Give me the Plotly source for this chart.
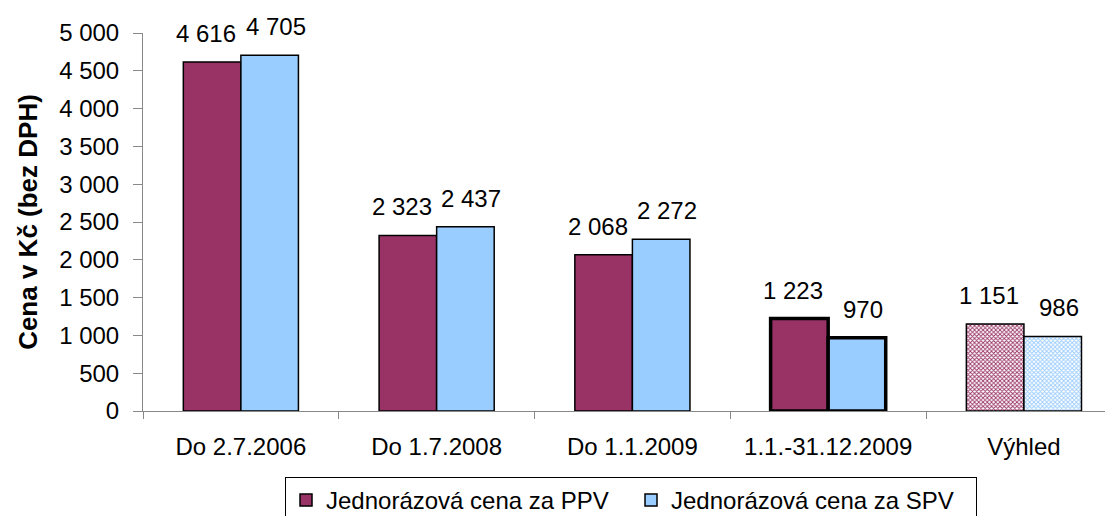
import plotly.graph_objects as go

categories = ["Do 2.7.2006", "Do 1.7.2008", "Do 1.1.2009", "1.1.-31.12.2009", "Výhled"]
ppv = [4616, 2323, 2068, 1223, 1151]
spv = [4705, 2437, 2272, 970, 986]
series_names = ["Jednorázová cena za PPV", "Jednorázová cena za SPV"]
y_ticks = [0, 500, 1000, 1500, 2000, 2500, 3000, 3500, 4000, 4500, 5000]
y_ticklabels = ["0", "500", "1 000", "1 500", "2 000", "2 500", "3 000", "3 500", "4 000", "4 500", "5 000"]

def fmt(v):
    return f"{v:,}".replace(",", " ")

FONT = "Liberation Sans, Arial, sans-serif"
FS = 24
line_widths = [1.5, 1.5, 1.5, 3.5, 1.5]
pat_shapes = ["", "", "", "", "x"]
BARGAP = 0.412
half = (1 - BARGAP) / 4  # offset of each bar center from category center

fig = go.Figure()
series = [(series_names[0], ppv, "#993366", -half, -6), (series_names[1], spv, "#99CCFF", half, 6)]
for name, vals, color, off, xs in series:
    fig.add_trace(go.Bar(
        name=name, x=categories, y=vals,
        marker=dict(
            color=color,
            line=dict(color="black", width=line_widths),
            pattern=dict(shape=pat_shapes, fillmode="replace",
                         bgcolor=[color] * 4 + ["white"],
                         fgcolor=color, size=3, solidity=0.5),
        ),
    ))
    for i, v in enumerate(vals):
        fig.add_annotation(x=i + off, y=v, text=fmt(v), showarrow=False,
                           yanchor="bottom", xanchor="center", yshift=13, xshift=xs,
                           font=dict(size=FS, family=FONT, color="black"))

fig.update_layout(
    width=1105, height=508,
    margin=dict(l=135, r=0, t=25, b=105, autoexpand=False),
    paper_bgcolor="white", plot_bgcolor="white",
    barmode="group", bargap=BARGAP, bargroupgap=0,
    font=dict(family=FONT, size=FS, color="black"),
    showlegend=True,
    legend=dict(orientation="h", x=0.1464, xanchor="left", y=-0.1746, yanchor="top",
                bordercolor="black", borderwidth=1, bgcolor="white",
                entrywidth=300, entrywidthmode="pixels",
                font=dict(size=FS, family=FONT)),
)
fig.update_xaxes(
    range=[-0.5, 4.455], showline=True, linecolor="#888888", linewidth=1,
    ticks="outside", tickson="boundaries", ticklen=7, tickcolor="#888888",
    ticklabelstandoff=14,
    tickfont=dict(size=FS, family=FONT), showgrid=False,
)
fig.update_yaxes(
    range=[0, 5000], tickvals=y_ticks, ticktext=y_ticklabels,
    showline=True, linecolor="#888888", linewidth=1,
    ticks="outside", ticklen=9, tickcolor="#888888", showgrid=False, zeroline=False,
    ticklabelstandoff=9,
    tickfont=dict(size=FS, family=FONT),
    title=dict(text="<b>Cena v Kč (bez DPH)</b>", font=dict(size=26, family=FONT), standoff=14),
)
fig.write_html("out.html")
